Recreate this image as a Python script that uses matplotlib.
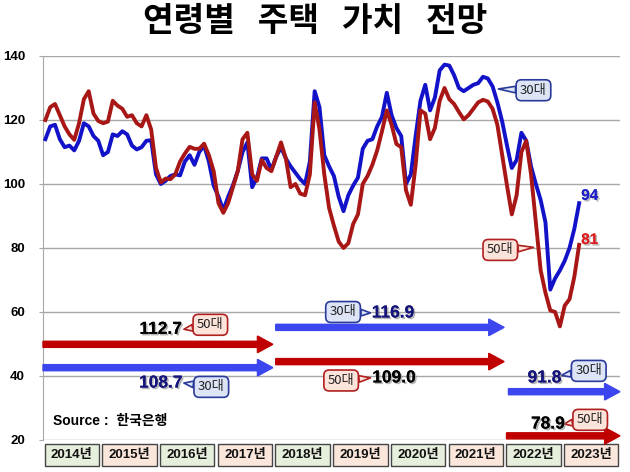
import matplotlib
matplotlib.use("Agg")
import matplotlib.pyplot as plt
import matplotlib.patheffects as pe
from matplotlib.patches import Rectangle
import matplotlib.transforms as mtransforms
import numpy as np

plt.rcParams['font.family'] = ['Liberation Sans', 'Noto Sans CJK KR']

# monthly index, Jan 2014 = 0
years = ['2014년', '2015년', '2016년', '2017년', '2018년',
         '2019년', '2020년', '2021년', '2022년', '2023년']

age30 = [114, 118, 118.5, 114, 111.5, 112, 110.5, 113.5, 119, 118, 115, 113.5,
         109, 110, 115.5, 115, 116.5, 115.5, 112, 110.8, 111.5, 113.5, 113.7, 103,
         100, 101, 102.5, 103, 102.7, 107, 109, 106, 110, 112, 107, 99.5,
         96, 91.8, 96, 99.6, 104, 110, 113, 99, 102, 108, 108, 104.5,
         108.5, 111.5, 108, 105.5, 103.5, 101.5, 100, 107, 129, 124, 109, 105.5,
         102.5, 96, 91.5, 96.5, 99.5, 102, 111, 113.5, 114, 118, 121, 128.5,
         121.5, 117.5, 115, 100, 103, 115, 126, 131, 123, 127, 135.5, 137.3,
         137, 134, 130, 129, 130, 131, 131.5, 133.5, 133, 130.5, 125.5, 119.5,
         112, 105, 107.5, 116, 113.5, 105.5, 100, 95, 88, 67, 70.5, 73,
         76, 80, 86, 94]

age50 = [120, 124, 125, 121.5, 118, 115.5, 113.8, 119, 126.5, 129, 122, 119.7,
         119, 119.5, 126, 124.5, 123.5, 121, 121.5, 119, 118, 121.5, 117, 105,
         100.5, 101.7, 101.5, 103, 107, 109.5, 111.6, 111, 111, 112.6, 109, 104,
         94, 91, 94, 99, 104, 114, 116, 103, 101, 107.5, 105, 104,
         108.5, 113, 108, 99, 100, 97, 96.5, 103, 125.5, 117, 103, 92.5,
         87, 82, 80, 81.5, 87.5, 90.5, 100, 102.5, 106, 110.5, 116.5, 123,
         118.5, 112.5, 111.5, 98, 93.5, 106, 123, 122, 114, 117.5, 126, 130,
         126.5, 125, 122.5, 120.2, 121.5, 123.5, 125.5, 126.3, 125.8, 123.5, 118.5, 109,
         99.5, 90.5, 96.5, 110, 113.5, 103, 88, 73, 66, 60.5, 60, 55.5,
         62, 64, 71, 81]

# period averages: (start month, end month, value, y level)
avg30 = [(-0.5, 47.3, '108.7', 42.6), (47.9, 95.4, '116.9', 55.2), (96.3, 119.5, '91.8', 35.1)]
avg50 = [(-0.5, 47.3, '112.7', 49.9), (47.9, 95.4, '109.0', 44.5), (95.9, 119.5, '78.9', 21.3)]

line30 = '#1212c8'
line50 = '#a81616'
arr30 = '#3c46ee'
arr50 = '#c00000'
navy = '#14147a'

fig = plt.figure(figsize=(6.3, 4.72), dpi=100)
ax = fig.add_axes([43/630, 32/472, 577/630, 384/472])

x = np.arange(len(age30))
ax.plot(x, age30, color=line30, lw=2.8, solid_joinstyle='round', zorder=3)
ax.plot(x, age50, color=line50, lw=2.8, solid_joinstyle='round', zorder=4)

ax.set_xlim(-0.5, 119.5)
ax.set_ylim(20, 140)
ax.set_yticks(range(20, 141, 20))
ax.set_xticks([])
ax.grid(axis='y', color='#a8a8a8', lw=1)
ax.set_axisbelow(True)
for s in ['top', 'right', 'bottom']:
    ax.spines[s].set_visible(False)
ax.spines['left'].set_color('#a8a8a8')
ax.tick_params(axis='y', length=3, color='#a8a8a8', pad=10)
for t in ax.get_yticklabels():
    t.set_fontweight('bold')
    t.set_fontsize(9.5)

# arrows
for (x0, x1, txt, yv) in avg50:
    ax.arrow(x0, yv, x1 - x0, 0, width=1.9, head_width=5.2, head_length=3.2,
             length_includes_head=True, fc=arr50, ec=arr50, zorder=5, clip_on=False)
for (x0, x1, txt, yv) in avg30:
    ax.arrow(x0, yv, x1 - x0, 0, width=1.9, head_width=5.2, head_length=3.2,
             length_includes_head=True, fc=arr30, ec=arr30, zorder=5, clip_on=False)

shadow = [pe.withSimplePatchShadow(offset=(1.2, -1.2), shadow_rgbFace='#888888', alpha=0.6), pe.Normal()]


def callout(txt, box, tip, fc, ec):
    ax.annotate(txt, xy=tip, xytext=box, ha='center', va='center', fontsize=9.5,
                color='#222222', family=['Noto Sans CJK KR'], zorder=7,
                bbox=dict(boxstyle='round,pad=0.3,rounding_size=0.4', fc=fc, ec=ec, lw=1.2),
                arrowprops=dict(arrowstyle='wedge,tail_width=0.5', fc=fc, ec=ec, lw=1.2,
                                shrinkA=0, shrinkB=0))


def value(xv, yv, txt, col):
    ax.text(xv, yv, txt, ha='center', va='center', fontsize=12.5, fontweight='bold',
            color=col, path_effects=shadow, zorder=8)


pink, red_edge = '#fde4da', '#b02020'
lblue, blue_edge = '#dce4f6', '#2a3a9a'

# value labels + tags
value(24, 54.6, '112.7', 'black')
callout('50대', (34.3, 56), (28.8, 54.6), pink, red_edge)
value(24, 37.8, '108.7', navy)
callout('30대', (34.5, 36.6), (28.8, 37.8), lblue, blue_edge)

callout('30대', (61.9, 60), (67.6, 59.7), lblue, blue_edge)
value(72.3, 59.7, '116.9', navy)
callout('50대', (61.5, 38.6), (67.6, 39.4), pink, red_edge)
value(72.5, 39.4, '109.0', 'black')

value(103.8, 39.4, '91.8', navy)
callout('30대', (113, 41.6), (107.3, 40.2), lblue, blue_edge)
value(104.5, 25, '78.9', 'black')
callout('50대', (113.3, 26.3), (107.9, 25), pink, red_edge)

# series tags
callout('30대', (101.5, 129.3), (94.2, 129.7), lblue, blue_edge)
callout('50대', (94.6, 79.4), (101.5, 80.2), pink, red_edge)
ax.text(113.2, 96.3, '94', ha='center', va='center', fontsize=11, fontweight='bold',
        color='#2020c8', path_effects=shadow, zorder=8)
ax.text(113.2, 82.5, '81', ha='center', va='center', fontsize=11, fontweight='bold',
        color='#e02020', path_effects=shadow, zorder=8)

ax.text(1.5, 25.8, 'Source :  한국은행', ha='left', va='center', fontsize=10,
        fontweight='bold', color='black', zorder=8)

# year boxes
trans = mtransforms.blended_transform_factory(ax.transData, ax.transAxes)
for i, yr in enumerate(years):
    fc = '#e6eedc' if i % 2 == 0 else '#fbe6dc'
    x0 = i * 12 - 0.5 + 0.35
    ax.add_patch(Rectangle((x0, -26/384), 11.3, 22/384, transform=trans, fc=fc,
                           ec='#444444', lw=1, clip_on=False))
    ax.text(i * 12 + 5.5, -15/384, yr, transform=trans, ha='center', va='center',
            fontsize=9.5, fontweight='bold', color='#111111')

fig.text(0.5, 0.955, '연령별   주택   가치   전망', ha='center', va='center',
         fontsize=24, fontweight='black', family=['Noto Sans CJK KR'])

fig.savefig('out.png', dpi=100)
